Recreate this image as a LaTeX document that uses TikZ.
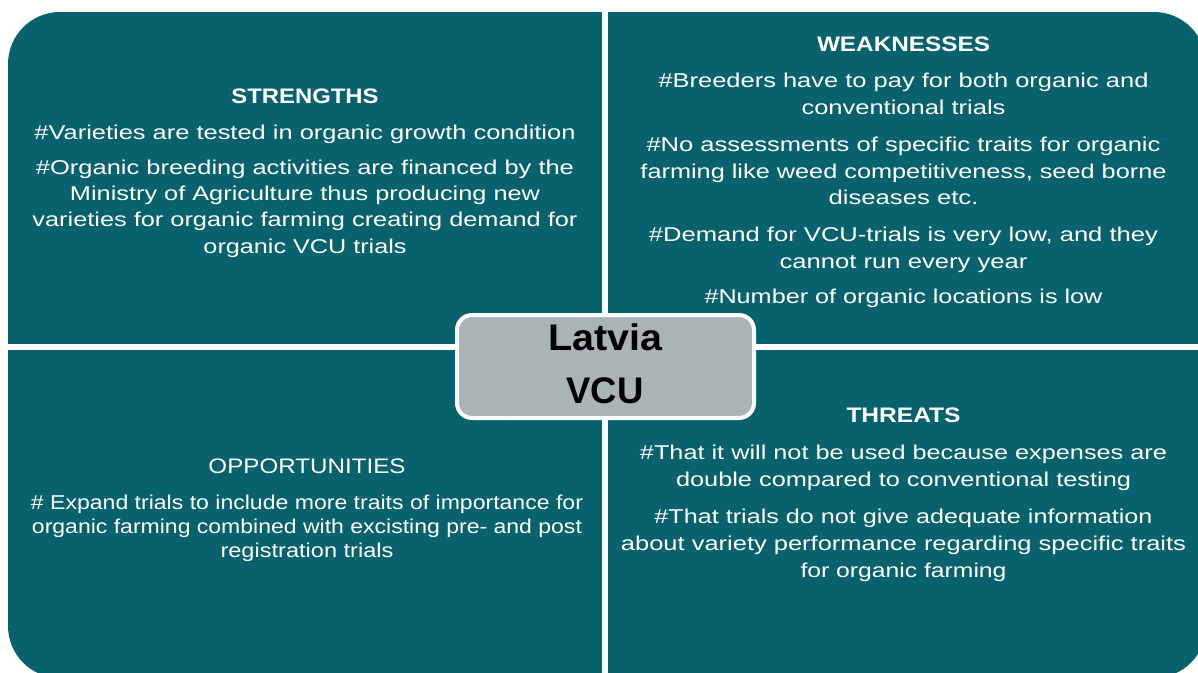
\documentclass[tikz,border=0pt]{standalone}
\usepackage{fontspec}
\setmainfont{Liberation Sans}
\usepackage{graphicx}
\definecolor{quad}{HTML}{08626E}
\definecolor{core}{HTML}{A9B4B7}
\newcommand\fitline[2]{\resizebox{#1pt}{\height}{#2}}
\begin{document}
\begin{tikzpicture}[x=1pt,y=-1pt,
  body/.style={text=white,anchor=base,inner sep=0pt,font=\fontsize{20}{24}\selectfont},
  head/.style={text=white,anchor=base,inner sep=0pt,font=\fontsize{21}{25}\selectfont\bfseries},
  headreg/.style={text=white,anchor=base,inner sep=0pt,font=\fontsize{21}{25}\selectfont},
  title/.style={text=black,anchor=base,inner sep=0pt,font=\fontsize{37}{40}\selectfont\bfseries},
  quadfill/.style={fill=quad}]
\useasboundingbox (0,0) rectangle (1198,672);
\fill[white] (0,0) rectangle (1198,672);
\begin{scope}
  \clip[rounded corners=52pt] (8,12) rectangle (1206,678);
  \fill[quadfill] (8,12) rectangle (602,344);
  \fill[quadfill] (608,12) rectangle (1206,344);
  \fill[quadfill] (8,350) rectangle (602,678);
  \fill[quadfill] (608,350) rectangle (1206,678);
\end{scope}
% Strengths
\node[head] (s0) at (305,103.5) {\fitline{147}{STRENGTHS}};
\node[body] (s1) at (305,139) {\fitline{541}{\#Varieties are tested in organic growth condition}};
\node[body] (s2) at (305,174) {\fitline{538}{\#Organic breeding activities are financed by the}};
\node[body] (s3) at (305,200) {\fitline{470}{Ministry of Agriculture thus producing new}};
\node[body] (s4) at (305,226) {\fitline{545}{varieties for organic farming creating demand for}};
\node[body] (s5) at (305,253) {\fitline{203}{organic VCU trials}};
% Weaknesses
\node[head] (w0) at (903.5,51.5) {\fitline{173}{WEAKNESSES}};
\node[body] (w1) at (903.5,87) {\fitline{490}{\#Breeders have to pay for both organic and}};
\node[body] (w2) at (903.5,114) {\fitline{204}{conventional trials}};
\node[body] (w3) at (903.5,151) {\fitline{514}{\#No assessments of specific traits for organic}};
\node[body] (w4) at (903.5,178) {\fitline{526}{farming like weed competitiveness, seed borne}};
\node[body] (w5) at (903.5,204) {\fitline{150}{diseases etc.}};
\node[body] (w6) at (903.5,241) {\fitline{509}{\#Demand for VCU-trials is very low, and they}};
\node[body] (w7) at (903.5,268) {\fitline{248}{cannot run every year}};
\node[body] (w8) at (903.5,303) {\fitline{398}{\#Number of organic locations is low}};
% Opportunities
\node[headreg] (o0) at (307,473.5) {\fitline{197}{OPPORTUNITIES}};
\node[body] (o1) at (307,509) {\fitline{552}{\# Expand trials to include more traits of importance for}};
\node[body] (o2) at (307,533) {\fitline{550}{organic farming combined with excisting pre- and post}};
\node[body] (o3) at (307,557) {\fitline{173}{registration trials}};
% Threats
\node[head] (t0) at (903.5,422.5) {\fitline{114}{THREATS}};
\node[body] (t1) at (903.5,459) {\fitline{527}{\#That it will not be used because expenses are}};
\node[body] (t2) at (903.5,486) {\fitline{455}{double compared to conventional testing}};
\node[body] (t3) at (903.5,523) {\fitline{498}{\#That trials do not give adequate information}};
\node[body] (t4) at (903.5,550) {\fitline{565}{about variety performance regarding specific traits}};
\node[body] (t5) at (903.5,577) {\fitline{206}{for organic farming}};
% Centre
\node[draw=white,line width=4pt,fill=core,rounded corners=15pt,
      minimum width=297pt,minimum height=103pt,inner sep=0pt] (core) at (605.5,366.5) {};
\node[title] (c1) at (605,350) {\fitline{114}{Latvia}};
\node[title] (c2) at (605,403) {\fitline{77}{VCU}};
\end{tikzpicture}
\end{document}
